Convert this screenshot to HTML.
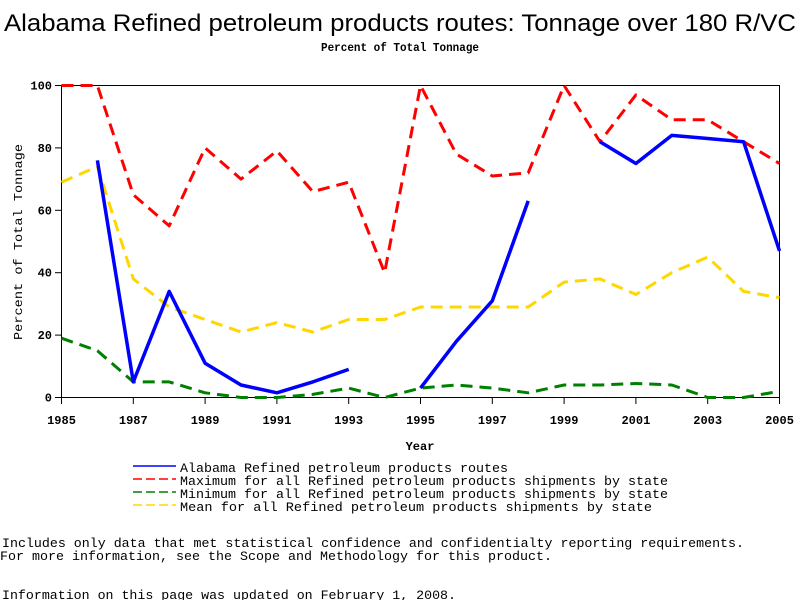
<!DOCTYPE html>
<html><head><meta charset="utf-8"><style>
html,body{margin:0;padding:0;background:#fff;width:800px;height:600px;overflow:hidden}
svg text{font-family:"Liberation Mono",monospace}
</style></head><body>
<svg id="chart" width="800" height="600" xmlns="http://www.w3.org/2000/svg">
<text x="400" y="31" text-anchor="middle" font-family="Liberation Sans, sans-serif" style="font-family:'Liberation Sans',sans-serif" font-size="24" textLength="792" lengthAdjust="spacingAndGlyphs">Alabama Refined petroleum products routes: Tonnage over 180 R/VC</text>
<text x="400" y="51" text-anchor="middle" font-size="12" font-weight="bold" textLength="158" lengthAdjust="spacingAndGlyphs">Percent of Total Tonnage</text>
<rect x="61.5" y="85.5" width="718" height="312" fill="none" stroke="#000" stroke-width="1"/>
<g id="yaxis"></g>
<g id="xaxis"></g>
<text transform="translate(22,242) rotate(-90)" text-anchor="middle" font-size="12" textLength="196" lengthAdjust="spacingAndGlyphs">Percent of Total Tonnage</text>
<text x="420" y="450" text-anchor="middle" font-size="12" font-weight="bold">Year</text>
<g id="series"></g>
<g font-size="13">
<g><line x1="133" y1="466" x2="176" y2="466" stroke="#0000ff" stroke-width="1.5"/><text x="180" y="472" textLength="328" lengthAdjust="spacingAndGlyphs">Alabama Refined petroleum products routes</text></g>
<g><line x1="133" y1="479" x2="176" y2="479" stroke="#ff0000" stroke-width="1.5" stroke-dasharray="9,4"/><text x="180" y="485" textLength="488" lengthAdjust="spacingAndGlyphs">Maximum for all Refined petroleum products shipments by state</text></g>
<g><line x1="133" y1="492" x2="176" y2="492" stroke="#008000" stroke-width="1.5" stroke-dasharray="9,4"/><text x="180" y="498" textLength="488" lengthAdjust="spacingAndGlyphs">Minimum for all Refined petroleum products shipments by state</text></g>
<g><line x1="133" y1="505" x2="176" y2="505" stroke="#ffd700" stroke-width="1.5" stroke-dasharray="9,4"/><text x="180" y="511" textLength="472" lengthAdjust="spacingAndGlyphs">Mean for all Refined petroleum products shipments by state</text></g>
</g>
<text x="2" y="547" font-size="13" textLength="742" lengthAdjust="spacingAndGlyphs">Includes only data that met statistical confidence and confidentialty reporting requirements.</text>
<text x="0" y="560" font-size="13" textLength="552" lengthAdjust="spacingAndGlyphs">For more information, see the Scope and Methodology for this product.</text>
<text x="2" y="599" font-size="13" textLength="454" lengthAdjust="spacingAndGlyphs">Information on this page was updated on February 1, 2008.</text>
</svg>
<script>
const years=[1985,1986,1987,1988,1989,1990,1991,1992,1993,1994,1995,1996,1997,1998,1999,2000,2001,2002,2003,2004,2005];
const alabama=[null,76,5,34,11,4,1.5,5,9,null,3,18,31,63,null,82,75,84,83,82,47];
const maximum=[100,100,65,55,80,70,79,66,69,40,100,78,71,72,100,82,97,89,89,82,75];
const minimum=[19,15,5,5,1.5,0,0,1,3,0,3,4,3,1.5,4,4,4.5,4,0,0,2];
const mean=[69,74,38,29,25,21,24,21,25,25,29,29,29,29,37,38,33,40,45,34,32];
const yTicks=[0,20,40,60,80,100];
const xTicks=[1985,1987,1989,1991,1993,1995,1997,1999,2001,2003,2005];
const NS="http://www.w3.org/2000/svg";
const X=y=>61.5+(y-1985)*(718/20);
const Y=v=>397.5-v*3.12;
const ya=document.getElementById('yaxis'),xa=document.getElementById('xaxis'),sg=document.getElementById('series');
function mk(tag,attrs,parent){const e=document.createElementNS(NS,tag);for(const k in attrs)e.setAttribute(k,attrs[k]);parent.appendChild(e);return e;}
yTicks.forEach(t=>{
 const l=mk('line',{x1:55,x2:61.5,y1:Y(t),y2:Y(t),stroke:'#000'},ya);
 
 
 const tx=mk('text',{x:52,y:Y(t)+4,'text-anchor':'end','font-size':12,'font-weight':'bold'},ya);
 tx.textContent=t;
 
 
});
xTicks.forEach(t=>{
 const l=mk('line',{x1:X(t),x2:X(t),y1:397.5,y2:404,stroke:'#000'},xa);
 
 
 const tx=mk('text',{x:X(t),y:424,'text-anchor':'middle','font-size':12,'font-weight':'bold'},xa);
 tx.textContent=t;
 
 
});
function draw(vals,color,width,dash,name){
 let d='',pen=false;
 vals.forEach((v,i)=>{ if(v===null){pen=false;return;} d+=(pen?'L':'M')+X(years[i]).toFixed(1)+','+Y(v).toFixed(1); pen=true; });
 const p=mk('path',{d:d,fill:'none',stroke:color,'stroke-width':width,'stroke-linejoin':'round'},sg);
 if(dash)p.setAttribute('stroke-dasharray',dash);
 
 
}
draw(mean,'#ffd700',3,'12,7','mean-line');
draw(minimum,'#008000',3,'12,7','minimum-line');
draw(maximum,'#ff0000',3,'12,7','maximum-line');
draw(alabama,'#0000ff',3.5,null,'alabama-line');
</script>
</body></html>
